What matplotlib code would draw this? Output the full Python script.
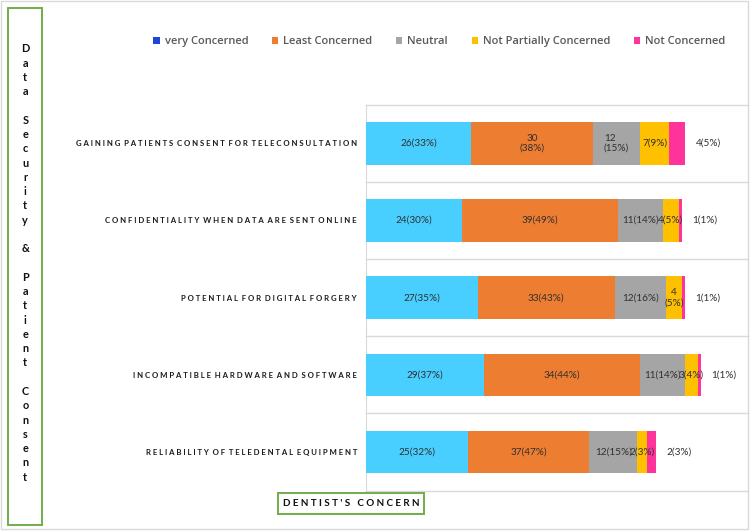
import matplotlib
matplotlib.use("Agg")
import matplotlib.pyplot as plt
from matplotlib.patches import Rectangle, Patch

# ---------------- data ----------------
categories = [
    "GAINING PATIENTS CONSENT FOR TELECONSULTATION",
    "CONFIDENTIALITY WHEN DATA ARE SENT ONLINE",
    "POTENTIAL FOR DIGITAL FORGERY",
    "INCOMPATIBLE HARDWARE AND SOFTWARE",
    "RELIABILITY OF TELEDENTAL EQUIPMENT",
]
series_names = ["very Concerned", "Least Concerned", "Neutral",
                "Not Partially Concerned", "Not Concerned"]

# bar lengths as drawn (percent)
very_len = [33, 30, 35, 37, 32]
least_len = [38, 49, 43, 49, 38]
neutral_len = [15, 14, 16, 14, 15]
npc_len = [9, 5, 5, 4, 3]
nc_len = [5, 1, 1, 1, 3]

# data labels
very_lbl = ["26(33%)", "24(30%)", "27(35%)", "29(37%)", "25(32%)"]
least_lbl = ["30\n(38%)", "39(49%)", "33(43%)", "34(44%)", "37(47%)"]
neutral_lbl = ["12\n(15%)", "11(14%)", "12(16%)", "11(14%)", "12(15%)"]
npc_lbl = ["7(9%)", "4(5%)", "4\n(5%)", "3(4%)", "2(3%)"]
nc_lbl = ["4(5%)", "1(1%)", "1(1%)", "1(1%)", "2(3%)"]

bar_colors = ["#48CFFF", "#ED7D31", "#A5A5A5", "#FFC000", "#FF3399"]
legend_colors = ["#1E44D8", "#ED7D31", "#A5A5A5", "#FFC000", "#FF3399"]

lens = [very_len, least_len, neutral_len, npc_len, nc_len]
lbls = [very_lbl, least_lbl, neutral_lbl, npc_lbl, nc_lbl]

W, H = 750, 531
fig = plt.figure(figsize=(7.5, 5.31), dpi=100)
fig.patch.set_facecolor("white")

ax = fig.add_axes([366 / W, 1 - 490.7 / H, (748 - 366) / W, (490.7 - 104.7) / H])
ax.set_xlim(0, 119.7)
ax.set_ylim(4.5, -0.5)

y = list(range(len(categories)))
left = [0.0] * len(categories)
lab_font = dict(family=["Lato", "DejaVu Sans"], fontsize=7.2, color="#303030")
for si, (vals, labels, col) in enumerate(zip(lens, lbls, bar_colors)):
    ax.barh(y, vals, left=left, height=0.55, color=col, edgecolor="none", zorder=3)
    for i in range(len(categories)):
        if si == len(lens) - 1:
            ax.annotate(labels[i], xy=(left[i] + vals[i], y[i]), xytext=(7.5, 0),
                        textcoords="offset points", ha="left", va="center", **lab_font)
        else:
            ax.text(left[i] + vals[i] / 2, y[i], labels[i], ha="center", va="center",
                    ma="left" if si == 2 else "center", zorder=4, **lab_font)
    left = [l + v for l, v in zip(left, vals)]

# separators
for b in [k - 0.5 for k in range(len(categories) + 1)]:
    ax.axhline(b, color="#D9D9D9", lw=1.0, zorder=1, clip_on=False)

for s in ["top", "right", "bottom"]:
    ax.spines[s].set_visible(False)
ax.spines["left"].set_color("#D9D9D9")
ax.set_xticks([])
ax.set_yticks(y)
spaced = ["  ".join(" ".join(w) for w in c.split(" ")) for c in categories]
ax.set_yticklabels(spaced, family=["Lato", "DejaVu Sans"], fontweight="bold",
                   fontsize=5.6, color="#1a1a1a")
ax.tick_params(axis="y", length=0, pad=6.5)

# legend
handles = [Patch(facecolor=c, edgecolor="none") for c in legend_colors]
fig.legend(handles, series_names, loc="center", bbox_to_anchor=(439.5 / W, 1 - 41.7 / H),
           ncol=5, frameon=False, handlelength=0.55, handleheight=0.55,
           handletextpad=0.45, columnspacing=2.15,
           prop=dict(family=["Open Sans", "DejaVu Sans"], size=8, weight="semibold"),
           labelcolor="#595959")

# left vertical title box
green = "#70AD47"
fig.patches.append(Rectangle((8.3 / W, 1 - 525 / H), 34 / W, (525 - 7.5) / H,
                             transform=fig.transFigure, fill=False, edgecolor=green, lw=1.4))
title = "Data Security & Patient Consent"
for k, ch in enumerate(title):
    if ch == " ":
        continue
    fig.text(25.3 / W, 1 - (49 + k * 14.27) / H, ch, ha="center", va="center",
             family=["Lato", "DejaVu Sans"], fontweight="bold", fontsize=7.8, color="#111111")

# bottom label box
fig.patches.append(Rectangle((278 / W, 1 - 513.7 / H), (424.3 - 278) / W, (513.7 - 493) / H,
                             transform=fig.transFigure, fill=False, edgecolor=green, lw=1.4))
fig.text(351 / W, 1 - 503.5 / H, "   ".join(" ".join(w) for w in "DENTIST'S CONCERN".split(" ")),
         ha="center", va="center", family=["Lato", "DejaVu Sans"], fontweight="bold",
         fontsize=7.1, color="#111111")

# outer frame
fig.patches.append(Rectangle((1 / W, 1 - 529 / H), 747 / W, 528 / H,
                             transform=fig.transFigure, fill=False, edgecolor="#D9D9D9", lw=1.0))

fig.savefig("out.png", dpi=100, facecolor="white")
